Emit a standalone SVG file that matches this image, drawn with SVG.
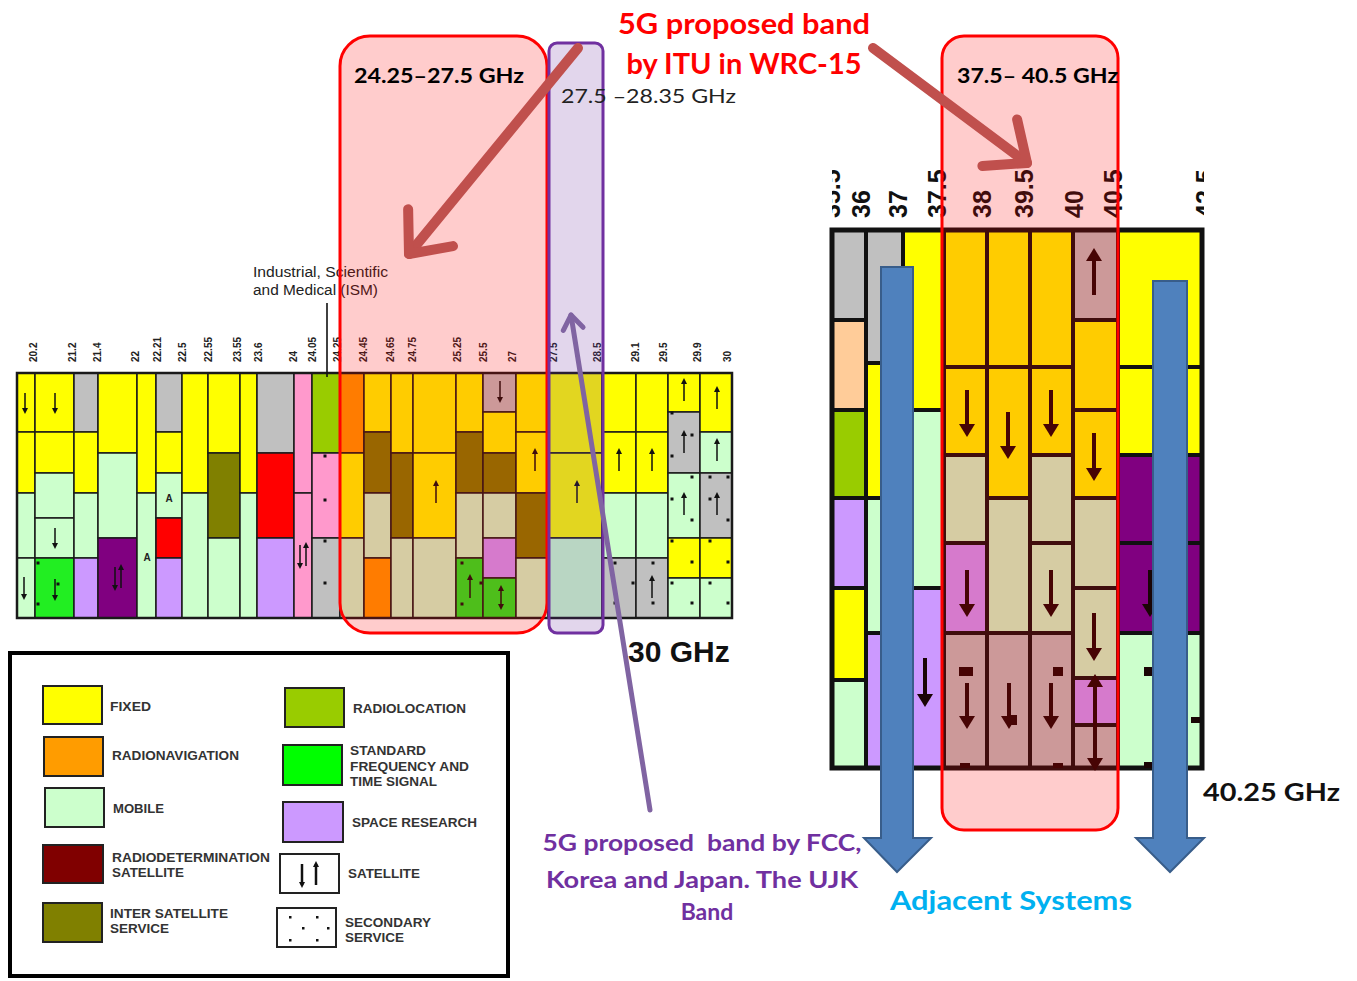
<svg xmlns="http://www.w3.org/2000/svg" width="1357" height="981" viewBox="0 0 1357 981">
<style>
.c{stroke:#1a1a1a;stroke-width:1.5}
.c2{stroke:#111;stroke-width:4}
.fx{fill:#ffff00}.rn{fill:#ff9c00}.mo{fill:#ccffcc}.rd{fill:#800000}.is{fill:#808000}.rl{fill:#99cc00}.sf{fill:#22ee22}.sr{fill:#cc99ff}.gy{fill:#c0c0c0}.red{fill:#ff0000}.pk{fill:#ff99cc}.pu{fill:#800080}.pe{fill:#ffcc99}
.sa{stroke:#111;stroke-width:1.5;fill:none;marker-end:url(#sa)}
.sab{stroke:#111;stroke-width:1.5;fill:none;marker-end:url(#sa);marker-start:url(#sa)}
.la{stroke:#1a0505;stroke-width:4;fill:none;marker-end:url(#la)}
.lab{stroke:#1a0505;stroke-width:4;fill:none;marker-end:url(#la);marker-start:url(#la)}
.dt{fill:#111}
.fl{font-family:"Liberation Sans",Arial,sans-serif;font-weight:bold;font-size:10px;fill:#222}
.fr{font-family:"Liberation Sans",Arial,sans-serif;font-weight:bold;font-size:25px;fill:#111}
.lg{font-family:"Liberation Sans",Arial,sans-serif;font-weight:bold;font-size:13px;fill:#333}
.cal{font-family:Lato,"Open Sans",sans-serif;font-weight:bold}
.sw{stroke:#222;stroke-width:2}
</style>
<defs>
<marker id="sa" markerUnits="userSpaceOnUse" viewBox="-7 -4 8 8" markerWidth="8" markerHeight="8" refX="-3" refY="0" orient="auto-start-reverse" overflow="visible"><path d="M-6,-3 L0,0 L-6,3 Z" fill="#111"/></marker>
<marker id="la" markerUnits="userSpaceOnUse" viewBox="-14 -9 16 18" markerWidth="16" markerHeight="18" refX="-9" refY="0" orient="auto-start-reverse" overflow="visible"><path d="M-13,-8 L0,0 L-13,8 Z" fill="#1a0505"/></marker>
<marker id="chevR" markerUnits="userSpaceOnUse" viewBox="-50 -35 60 70" markerWidth="60" markerHeight="70" refX="0" refY="0" orient="auto" overflow="visible"><path d="M-34,-29 L0,0 L-34,29" fill="none" stroke="#c0504d" stroke-width="10" stroke-linecap="round" stroke-linejoin="round"/></marker>
<marker id="chevP" markerUnits="userSpaceOnUse" viewBox="-20 -15 25 30" markerWidth="25" markerHeight="30" refX="0" refY="0" orient="auto" overflow="visible"><path d="M-14,-10 L0,0 L-14,10" fill="none" stroke="#8064a2" stroke-width="5" stroke-linecap="round" stroke-linejoin="round"/></marker>
<clipPath id="rclip"><rect x="832" y="140" width="372" height="90"/></clipPath>
</defs>

<g id="left-chart">
<g class="c">
<rect x="17" y="373" width="18" height="59" class="fx"/><rect x="17" y="432" width="18" height="61" class="fx"/><rect x="17" y="493" width="18" height="65" class="mo"/><rect x="17" y="558" width="18" height="60" class="mo"/>
<rect x="35" y="373" width="39" height="59" class="fx"/><rect x="35" y="432" width="39" height="41" class="fx"/><rect x="35" y="473" width="39" height="45" class="mo"/><rect x="35" y="518" width="39" height="40" class="mo"/><rect x="35" y="558" width="39" height="60" class="sf"/>
<rect x="74" y="373" width="24" height="59" class="gy"/><rect x="74" y="432" width="24" height="61" class="fx"/><rect x="74" y="493" width="24" height="65" class="mo"/><rect x="74" y="558" width="24" height="60" class="sr"/>
<rect x="98" y="373" width="39" height="80" class="fx"/><rect x="98" y="453" width="39" height="85" class="mo"/><rect x="98" y="538" width="39" height="80" class="pu"/>
<rect x="137" y="373" width="19" height="120" class="fx"/><rect x="137" y="493" width="19" height="125" class="mo"/>
<rect x="156" y="373" width="26" height="59" class="gy"/><rect x="156" y="432" width="26" height="41" class="fx"/><rect x="156" y="473" width="26" height="45" class="mo"/><rect x="156" y="518" width="26" height="40" class="red"/><rect x="156" y="558" width="26" height="60" class="sr"/>
<rect x="182" y="373" width="26" height="120" class="fx"/><rect x="182" y="493" width="26" height="125" class="mo"/>
<rect x="208" y="373" width="32" height="80" class="fx"/><rect x="208" y="453" width="32" height="85" class="is"/><rect x="208" y="538" width="32" height="80" class="mo"/>
<rect x="240" y="373" width="17" height="120" class="fx"/><rect x="240" y="493" width="17" height="125" class="mo"/>
<rect x="257" y="373" width="37" height="80" class="gy"/><rect x="257" y="453" width="37" height="85" class="red"/><rect x="257" y="538" width="37" height="80" class="sr"/>
<rect x="294" y="373" width="18" height="120" class="pk"/><rect x="294" y="493" width="18" height="125" class="pk"/>
<rect x="312" y="373" width="28" height="80" class="rl"/><rect x="312" y="453" width="28" height="85" class="pk"/><rect x="312" y="538" width="28" height="80" class="gy"/>
<rect x="340" y="373" width="24" height="80" class="rn"/><rect x="340" y="453" width="24" height="85" class="fx"/><rect x="340" y="538" width="24" height="80" class="mo"/>
<rect x="364" y="373" width="27" height="59" class="fx"/><rect x="364" y="432" width="27" height="61" class="is"/><rect x="364" y="493" width="27" height="65" class="mo"/><rect x="364" y="558" width="27" height="60" class="rn"/>
<rect x="391" y="373" width="22" height="80" class="fx"/><rect x="391" y="453" width="22" height="85" class="is"/><rect x="391" y="538" width="22" height="80" class="mo"/>
<rect x="413" y="373" width="43" height="80" class="fx"/><rect x="413" y="453" width="43" height="85" class="fx"/><rect x="413" y="538" width="43" height="80" class="mo"/>
<rect x="456" y="373" width="27" height="59" class="fx"/><rect x="456" y="432" width="27" height="61" class="is"/><rect x="456" y="493" width="27" height="65" class="mo"/><rect x="456" y="558" width="27" height="60" class="sf"/>
<rect x="483" y="373" width="33" height="39" class="gy"/><rect x="483" y="412" width="33" height="41" class="fx"/><rect x="483" y="453" width="33" height="40" class="is"/><rect x="483" y="493" width="33" height="45" class="mo"/><rect x="483" y="538" width="33" height="40" class="sr"/><rect x="483" y="578" width="33" height="40" class="sf"/>
<rect x="516" y="373" width="32" height="59" class="fx"/><rect x="516" y="432" width="32" height="61" class="fx"/><rect x="516" y="493" width="32" height="65" class="is"/><rect x="516" y="558" width="32" height="60" class="mo"/>
<rect x="548" y="373" width="54" height="80" class="fx"/><rect x="548" y="453" width="54" height="85" class="fx"/><rect x="548" y="538" width="54" height="80" class="mo"/>
<rect x="602" y="373" width="34" height="59" class="fx"/><rect x="602" y="432" width="34" height="61" class="fx"/><rect x="602" y="493" width="34" height="65" class="mo"/><rect x="602" y="558" width="34" height="60" class="gy"/>
<rect x="636" y="373" width="32" height="59" class="fx"/><rect x="636" y="432" width="32" height="61" class="fx"/><rect x="636" y="493" width="32" height="65" class="mo"/><rect x="636" y="558" width="32" height="60" class="gy"/>
<rect x="668" y="373" width="32" height="39" class="fx"/><rect x="668" y="412" width="32" height="61" class="gy"/><rect x="668" y="473" width="32" height="65" class="mo"/><rect x="668" y="538" width="32" height="40" class="fx"/><rect x="668" y="578" width="32" height="40" class="mo"/>
<rect x="700" y="373" width="32" height="59" class="fx"/><rect x="700" y="432" width="32" height="41" class="mo"/><rect x="700" y="473" width="32" height="65" class="gy"/><rect x="700" y="538" width="32" height="40" class="fx"/><rect x="700" y="578" width="32" height="40" class="mo"/>
</g>
<rect x="17" y="373" width="715" height="245" fill="none" stroke="#1a1a1a" stroke-width="2.5"/>
<g>
<path class="sa" d="M25,393 V411"/><path class="sa" d="M55,393 V411"/><path class="sa" d="M55,528 V546"/><path class="sa" d="M24,577 V597"/><path class="sa" d="M500,381 V400"/>
<path class="sa" d="M55,579 V598"/>
<path class="sa" d="M115,567 V588"/><path class="sa" d="M121,588 V567"/>
<path class="sa" d="M300,545 V566"/><path class="sa" d="M306,566 V545"/>
<path class="sa" d="M436,503 V483"/><path class="sa" d="M535,471 V451"/><path class="sa" d="M577,503 V483"/><path class="sa" d="M619,471 V451"/><path class="sa" d="M652,471 V451"/>
<path class="sa" d="M684,401 V381"/><path class="sa" d="M717,409 V389"/><path class="sa" d="M684,453 V433"/><path class="sa" d="M717,461 V441"/><path class="sa" d="M684,515 V495"/><path class="sa" d="M717,515 V495"/>
<path class="sa" d="M652,598 V578"/><path class="sa" d="M470,598 V577"/><path class="sab" d="M501,588 V607"/>
</g>
<g class="dt">
<rect x="36.5" y="561.5" width="3" height="3"/><rect x="36.5" y="602.5" width="3" height="3"/><rect x="56.5" y="582.5" width="3" height="3"/>
<rect x="323.5" y="454.5" width="3" height="3"/><rect x="323.5" y="498.5" width="3" height="3"/><rect x="323.5" y="539.5" width="3" height="3"/><rect x="323.5" y="581.5" width="3" height="3"/>
<rect x="460.5" y="561.5" width="3" height="3"/><rect x="460.5" y="602.5" width="3" height="3"/><rect x="479.5" y="581.5" width="3" height="3"/>
<rect x="613.5" y="561.5" width="3" height="3"/><rect x="613.5" y="601.5" width="3" height="3"/><rect x="631.5" y="581.5" width="3" height="3"/>
<rect x="651.5" y="561.5" width="3" height="3"/><rect x="651.5" y="601.5" width="3" height="3"/>
<rect x="670.5" y="411.5" width="3" height="3"/><rect x="690.5" y="433.5" width="3" height="3"/><rect x="670.5" y="454.5" width="3" height="3"/><rect x="690.5" y="475.5" width="3" height="3"/><rect x="670.5" y="497.5" width="3" height="3"/><rect x="690.5" y="518.5" width="3" height="3"/><rect x="670.5" y="539.5" width="3" height="3"/><rect x="690.5" y="560.5" width="3" height="3"/><rect x="670.5" y="581.5" width="3" height="3"/><rect x="690.5" y="601.5" width="3" height="3"/>
<rect x="708.5" y="475.5" width="3" height="3"/><rect x="726.5" y="475.5" width="3" height="3"/><rect x="708.5" y="497.5" width="3" height="3"/><rect x="726.5" y="518.5" width="3" height="3"/><rect x="708.5" y="539.5" width="3" height="3"/><rect x="726.5" y="560.5" width="3" height="3"/><rect x="708.5" y="581.5" width="3" height="3"/><rect x="726.5" y="601.5" width="3" height="3"/>
</g>
<text x="147" y="561" class="fl" font-size="11" text-anchor="middle">A</text>
<text x="169" y="502" class="fl" font-size="11" text-anchor="middle">A</text>
<g class="fl">
<text transform="translate(37,362) rotate(-90)">20.2</text>
<text transform="translate(76,362) rotate(-90)">21.2</text>
<text transform="translate(101,362) rotate(-90)">21.4</text>
<text transform="translate(139,362) rotate(-90)">22</text>
<text transform="translate(161,362) rotate(-90)">22.21</text>
<text transform="translate(186,362) rotate(-90)">22.5</text>
<text transform="translate(212,362) rotate(-90)">22.55</text>
<text transform="translate(241,362) rotate(-90)">23.55</text>
<text transform="translate(262,362) rotate(-90)">23.6</text>
<text transform="translate(297,362) rotate(-90)">24</text>
<text transform="translate(316,362) rotate(-90)">24.05</text>
<text transform="translate(341,362) rotate(-90)">24.25</text>
<text transform="translate(367,362) rotate(-90)">24.45</text>
<text transform="translate(394,362) rotate(-90)">24.65</text>
<text transform="translate(416,362) rotate(-90)">24.75</text>
<text transform="translate(461,362) rotate(-90)">25.25</text>
<text transform="translate(487,362) rotate(-90)">25.5</text>
<text transform="translate(516,362) rotate(-90)">27</text>
<text transform="translate(557,362) rotate(-90)">27.5</text>
<text transform="translate(601,362) rotate(-90)">28.5</text>
<text transform="translate(639,362) rotate(-90)">29.1</text>
<text transform="translate(667,362) rotate(-90)">29.5</text>
<text transform="translate(701,362) rotate(-90)">29.9</text>
<text transform="translate(731,362) rotate(-90)">30</text>
</g>
<line x1="327" y1="303" x2="327" y2="377" stroke="#111" stroke-width="1.6"/>
<text x="253" y="277" font-family="Liberation Sans,Arial,sans-serif" font-size="14" fill="#222" textLength="135" lengthAdjust="spacingAndGlyphs">Industrial, Scientific</text>
<text x="253" y="295" font-family="Liberation Sans,Arial,sans-serif" font-size="14" fill="#222" textLength="125" lengthAdjust="spacingAndGlyphs">and Medical (ISM)</text>
</g>

<g id="right-chart">
<g class="c2">
<rect x="832" y="230" width="34" height="90" class="gy"/><rect x="832" y="320" width="34" height="90" class="pe"/><rect x="832" y="410" width="34" height="88" class="rl"/><rect x="832" y="498" width="34" height="90" class="sr"/><rect x="832" y="588" width="34" height="92" class="fx"/><rect x="832" y="680" width="34" height="88" class="mo"/>
<rect x="866" y="230" width="37" height="133" class="gy"/><rect x="866" y="363" width="37" height="135" class="fx"/><rect x="866" y="498" width="37" height="135" class="mo"/><rect x="866" y="633" width="37" height="135" class="sr"/>
<rect x="903" y="230" width="41" height="180" class="fx"/><rect x="903" y="410" width="41" height="178" class="mo"/><rect x="903" y="588" width="41" height="180" class="sr"/>
<rect x="944" y="230" width="43" height="137" class="fx"/><rect x="944" y="367" width="43" height="88" class="fx"/><rect x="944" y="455" width="43" height="88" class="mo"/><rect x="944" y="543" width="43" height="90" class="sr"/><rect x="944" y="633" width="43" height="135" class="gy"/>
<rect x="987" y="230" width="43" height="137" class="fx"/><rect x="987" y="367" width="43" height="131" class="fx"/><rect x="987" y="498" width="43" height="135" class="mo"/><rect x="987" y="633" width="43" height="135" class="gy"/>
<rect x="1030" y="230" width="43" height="137" class="fx"/><rect x="1030" y="367" width="43" height="88" class="fx"/><rect x="1030" y="455" width="43" height="88" class="mo"/><rect x="1030" y="543" width="43" height="90" class="mo"/><rect x="1030" y="633" width="43" height="135" class="gy"/>
<rect x="1073" y="230" width="45" height="90" class="gy"/><rect x="1073" y="320" width="45" height="90" class="fx"/><rect x="1073" y="410" width="45" height="88" class="fx"/><rect x="1073" y="498" width="45" height="90" class="mo"/><rect x="1073" y="588" width="45" height="90" class="mo"/><rect x="1073" y="678" width="45" height="47" class="sr"/><rect x="1073" y="725" width="45" height="43" class="gy"/>
<rect x="1118" y="230" width="84" height="137" class="fx"/><rect x="1118" y="367" width="84" height="88" class="fx"/><rect x="1118" y="455" width="84" height="88" class="pu"/><rect x="1118" y="543" width="84" height="90" class="pu"/><rect x="1118" y="633" width="84" height="135" class="mo"/>
</g>
<rect x="832" y="230" width="370" height="538" fill="none" stroke="#111" stroke-width="5"/>
<g>
<path class="la" d="M967,390 V428"/><path class="la" d="M1008,412 V450"/><path class="la" d="M1051,390 V428"/><path class="la" d="M1094,433 V472"/>
<path class="la" d="M967,570 V608"/><path class="la" d="M1051,570 V608"/><path class="la" d="M1094,613 V652"/><path class="la" d="M925,658 V698"/>
<path class="la" d="M967,683 V720"/><path class="la" d="M1009,683 V720"/><path class="la" d="M1051,683 V720"/><path class="la" d="M1150,570 V608"/>
<path class="la" d="M1094,295 V257"/><path class="lab" d="M1095,683 V762"/>
</g>
<g fill="#1a0505">
<rect x="959" y="667" width="14" height="9"/><rect x="1007" y="715" width="10" height="10"/><rect x="1053" y="667" width="10" height="9"/>
<rect x="960" y="763" width="10" height="5"/><rect x="1053" y="763" width="10" height="5"/>
<rect x="1144" y="667" width="8" height="9"/><rect x="1191" y="717" width="9" height="6"/><rect x="1144" y="762" width="8" height="6"/>
</g>
<g class="fr" clip-path="url(#rclip)">
<text transform="translate(840,218) rotate(-90)">35.5</text>
<text transform="translate(870,218) rotate(-90)">36</text>
<text transform="translate(907,218) rotate(-90)">37</text>
<text transform="translate(946,218) rotate(-90)">37.5</text>
<text transform="translate(991,218) rotate(-90)">38</text>
<text transform="translate(1033,218) rotate(-90)">39.5</text>
<text transform="translate(1083,218) rotate(-90)">40</text>
<text transform="translate(1122,218) rotate(-90)">40.5</text>
<text transform="translate(1214,218) rotate(-90)">42.5</text>
</g>
</g>

<g id="itu-band-left">
<rect x="340" y="36" width="207" height="597" rx="30" fill="#ff0000" fill-opacity="0.2" stroke="#ff0000" stroke-width="3"/>
<text x="354" y="83" class="cal" font-size="20" fill="#000" textLength="170" lengthAdjust="spacingAndGlyphs">24.25–27.5 GHz</text>
</g>
<g id="ujk-band">
<rect x="549" y="43" width="54" height="590" rx="8" fill="#7030a0" fill-opacity="0.2" stroke="#7030a0" stroke-width="3"/>
<text x="561" y="103" font-family="Lato,'Open Sans',sans-serif" font-size="20" fill="#222" textLength="175" lengthAdjust="spacingAndGlyphs">27.5 –28.35 GHz</text>
</g>
<g id="itu-band-right">
<rect x="942" y="36" width="176" height="794" rx="22" fill="#ff0000" fill-opacity="0.2" stroke="#ff0000" stroke-width="3"/>
<text x="957" y="83" class="cal" font-size="20" fill="#000" textLength="161" lengthAdjust="spacingAndGlyphs">37.5– 40.5 GHz</text>
</g>

<g id="adjacent-systems">
<path d="M881,267 H913 V838 H931 L897,872 L864,838 H881 Z" fill="#4f81bd" stroke="#385d8a" stroke-width="2"/>
<path d="M1153,281 H1187 V838 H1204 L1170,872 L1136,838 H1153 Z" fill="#4f81bd" stroke="#385d8a" stroke-width="2"/>
<text x="1011" y="910" class="cal" font-size="26" fill="#00b0f0" text-anchor="middle" textLength="242" lengthAdjust="spacingAndGlyphs">Adjacent Systems</text>
</g>

<g id="legend">
<rect x="10" y="653" width="498" height="323" fill="#fff" stroke="#000" stroke-width="4"/>
<rect x="43" y="686" width="59" height="38" class="fx sw"/>
<rect x="44" y="737" width="59" height="39" class="rn sw"/>
<rect x="45" y="788" width="59" height="39" class="mo sw"/>
<rect x="43" y="845" width="60" height="38" class="rd sw"/>
<rect x="43" y="903" width="59" height="39" class="is sw"/>
<rect x="285" y="688" width="59" height="39" class="rl sw"/>
<rect x="283" y="745" width="59" height="40" fill="#00ff00" class="sw"/>
<rect x="283" y="802" width="60" height="40" class="sr sw"/>
<rect x="280" y="854" width="59" height="39" fill="#fff" class="sw"/>
<path d="M302,864 V885" stroke="#111" stroke-width="2.5" marker-end="url(#sa)"/>
<path d="M316,885 V864" stroke="#111" stroke-width="2.5" marker-end="url(#sa)"/>
<rect x="277" y="908" width="59" height="39" fill="#fff" class="sw"/>
<g class="dt"><rect x="289" y="916" width="2.5" height="2.5"/><rect x="316" y="916" width="2.5" height="2.5"/><rect x="302" y="927" width="2.5" height="2.5"/><rect x="327" y="927" width="2.5" height="2.5"/><rect x="289" y="939" width="2.5" height="2.5"/><rect x="316" y="939" width="2.5" height="2.5"/></g>
<g class="lg">
<text x="110" y="711" textLength="41" lengthAdjust="spacingAndGlyphs">FIXED</text>
<text x="112" y="760" textLength="127" lengthAdjust="spacingAndGlyphs">RADIONAVIGATION</text>
<text x="113" y="813" textLength="51" lengthAdjust="spacingAndGlyphs">MOBILE</text>
<text x="112" y="862" textLength="158" lengthAdjust="spacingAndGlyphs">RADIODETERMINATION</text>
<text x="112" y="877" textLength="72" lengthAdjust="spacingAndGlyphs">SATELLITE</text>
<text x="110" y="918" textLength="118" lengthAdjust="spacingAndGlyphs">INTER SATELLITE</text>
<text x="110" y="933" textLength="59" lengthAdjust="spacingAndGlyphs">SERVICE</text>
<text x="353" y="713" textLength="113" lengthAdjust="spacingAndGlyphs">RADIOLOCATION</text>
<text x="350" y="755" textLength="76" lengthAdjust="spacingAndGlyphs">STANDARD</text>
<text x="350" y="771" textLength="119" lengthAdjust="spacingAndGlyphs">FREQUENCY AND</text>
<text x="350" y="786" textLength="87" lengthAdjust="spacingAndGlyphs">TIME SIGNAL</text>
<text x="352" y="827" textLength="125" lengthAdjust="spacingAndGlyphs">SPACE RESEARCH</text>
<text x="348" y="878" textLength="72" lengthAdjust="spacingAndGlyphs">SATELLITE</text>
<text x="345" y="927" textLength="86" lengthAdjust="spacingAndGlyphs">SECONDARY</text>
<text x="345" y="942" textLength="59" lengthAdjust="spacingAndGlyphs">SERVICE</text>
</g>
</g>

<g id="labels">
<text x="628" y="662" font-family="Liberation Sans,Arial,sans-serif" font-weight="bold" font-size="30" fill="#111">30 GHz</text>
<text x="1203" y="801" class="cal" font-size="24" fill="#111" textLength="137" lengthAdjust="spacingAndGlyphs">40.25 GHz</text>
<text x="744" y="34" class="cal" font-size="28" fill="#ff0000" text-anchor="middle" textLength="252" lengthAdjust="spacingAndGlyphs">5G proposed band</text>
<text x="744" y="74" class="cal" font-size="28" fill="#ff0000" text-anchor="middle" textLength="235" lengthAdjust="spacingAndGlyphs">by ITU in WRC-15</text>
<g class="cal" font-size="23" fill="#7030a0" text-anchor="middle">
<text x="702" y="851" textLength="319" lengthAdjust="spacingAndGlyphs">5G proposed&#160; band by FCC,</text>
<text x="702" y="888" textLength="312" lengthAdjust="spacingAndGlyphs">Korea and Japan. The UJK</text>
<text x="707" y="920">Band</text>
</g>
</g>

<g id="connectors">
<line x1="578" y1="48" x2="409" y2="254" stroke="#c0504d" stroke-width="10" stroke-linecap="round" marker-end="url(#chevR)"/>
<line x1="873" y1="48" x2="1027" y2="163" stroke="#c0504d" stroke-width="10" stroke-linecap="round" marker-end="url(#chevR)"/>
<line x1="650" y1="810" x2="571" y2="315" stroke="#8064a2" stroke-width="5" stroke-linecap="round" marker-end="url(#chevP)"/>
</g>
</svg>
